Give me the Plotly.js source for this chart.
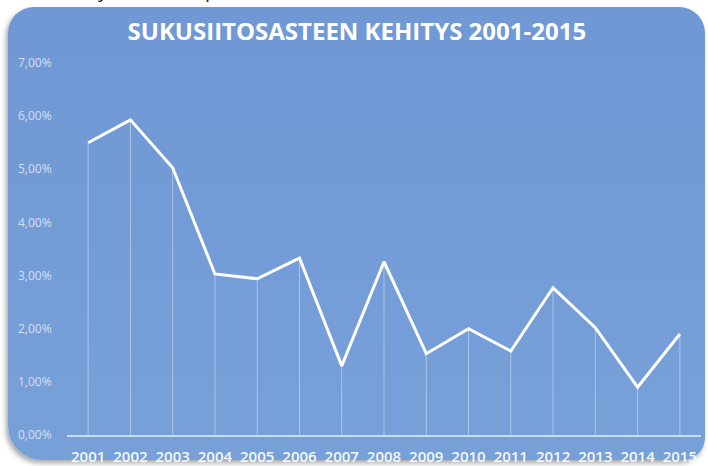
<!DOCTYPE html>
<html>
<head>
<meta charset="utf-8">
<script src="https://cdn.plot.ly/plotly-3.0.1.min.js"></script>
<style>
  html, body { margin: 0; padding: 0; background: #ffffff; }
  #wrap { position: relative; width: 708px; height: 466px; overflow: hidden; }
  #card {
    position: absolute; left: 8px; top: 7px; width: 697px; height: 453px;
    border-radius: 26px 26px 22px 34px;
    background: linear-gradient(180deg, #6f98d5 0%, #739bd6 45%, #78a0d8 100%);
    box-shadow: -2px 3px 5px rgba(60,60,60,0.45);
  }
  #chart { position: absolute; left: 0; top: 0; width: 708px; height: 466px; }
</style>
</head>
<body>
<div id="wrap">
  <div id="card"></div>
  <div id="chart"></div>
</div>
<script>
// Data
const years = [2001, 2002, 2003, 2004, 2005, 2006, 2007, 2008, 2009, 2010, 2011, 2012, 2013, 2014, 2015];
const inbreedingPct = [5.50, 5.93, 5.03, 3.03, 2.94, 3.33, 1.30, 3.26, 1.53, 2.00, 1.58, 2.77, 2.02, 0.90, 1.90];
const yTickVals = [0, 1, 2, 3, 4, 5, 6, 7];
const yTickText = ["0,00%", "1,00%", "2,00%", "3,00%", "4,00%", "5,00%", "6,00%", "7,00%"];
const xTickText = years.map(String);
const titleText = "SUKUSIITOSASTEEN KEHITYS 2001-2015";

const zeros = inbreedingPct.map(() => 0);

const traces = [
  {
    x: years,
    y: inbreedingPct,
    type: "scatter",
    mode: "lines",
    line: { color: "#ffffff", width: 3 },
    error_y: {
      type: "data",
      symmetric: false,
      array: zeros,
      arrayminus: inbreedingPct,
      color: "rgba(255,255,255,0.4)",
      thickness: 1,
      width: 0
    },
    hoverinfo: "skip",
    showlegend: false
  }
];

const layout = {
  width: 708,
  height: 466,
  paper_bgcolor: "rgba(0,0,0,0)",
  plot_bgcolor: "rgba(0,0,0,0)",
  margin: { l: 67, r: 7, t: 63, b: 31 },
  showlegend: false,
  title: {
    text: "<b>" + titleText + "</b>",
    font: { family: "Open Sans", size: 24, color: "#ffffff" },
    x: 0.504,
    xanchor: "center",
    y: 0.933,
    yanchor: "middle"
  },
  xaxis: {
    type: "linear",
    range: [2000.5, 2015.5],
    tickvals: years,
    ticktext: xTickText,
    showgrid: false,
    zeroline: false,
    showline: true,
    linecolor: "rgba(205,225,248,0.95)",
    linewidth: 2,
    ticks: "outside",
    ticklen: 7,
    tickcolor: "rgba(0,0,0,0)",
    tickfont: { family: "Open Sans", size: 15, weight: 600, color: "#f4f8fd" },
    fixedrange: true
  },
  yaxis: {
    range: [0, 7],
    tickvals: yTickVals,
    ticktext: yTickText,
    showgrid: false,
    zeroline: false,
    showline: false,
    ticks: "outside",
    ticklen: 12,
    tickcolor: "rgba(0,0,0,0)",
    tickfont: { family: "Open Sans", size: 12, color: "rgba(226,234,250,0.88)" },
    fixedrange: true
  },
  annotations: [
    { text: "y", xref: "paper", yref: "paper", x: (103 - 67) / 634, y: (435 - 5) / 372, xanchor: "center", yanchor: "bottom", showarrow: false, font: { family: "Open Sans", size: 20, color: "#222222" } },
    { text: "p", xref: "paper", yref: "paper", x: (211 - 67) / 634, y: (435 - 5) / 372, xanchor: "center", yanchor: "bottom", showarrow: false, font: { family: "Open Sans", size: 20, color: "#222222" } }
  ]
};

Plotly.newPlot("chart", traces, layout, { displayModeBar: false, staticPlot: true });
</script>
</body>
</html>
